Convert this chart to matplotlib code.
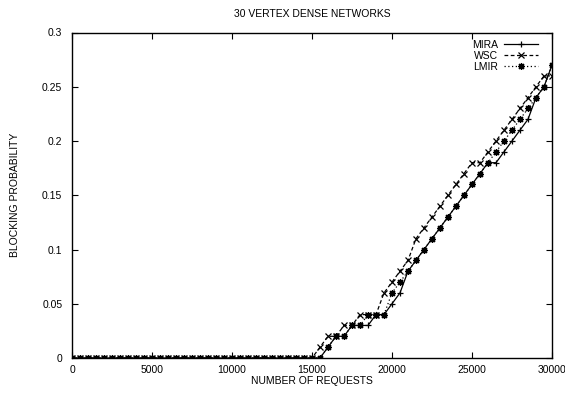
import numpy as np
import matplotlib
matplotlib.use("Agg")
import matplotlib.pyplot as plt

plt.rcParams['font.family'] = ['Liberation Sans', 'DejaVu Sans']

# Data (one point every 500 requests)
requests = np.arange(0, 30001, 500)
mira = [0.0] * 32 + [0.01, 0.02, 0.02, 0.03, 0.03, 0.03, 0.04, 0.04, 0.05, 0.06,
                     0.08, 0.09, 0.10, 0.11, 0.12, 0.13, 0.14, 0.15, 0.16, 0.17,
                     0.18, 0.18, 0.19, 0.20, 0.21, 0.22, 0.24, 0.25, 0.27]
wsc = [0.0] * 31 + [0.01, 0.02, 0.02, 0.03, 0.03, 0.04, 0.04, 0.04, 0.06, 0.07,
                    0.08, 0.09, 0.11, 0.12, 0.13, 0.14, 0.15, 0.16, 0.17, 0.18,
                    0.18, 0.19, 0.20, 0.21, 0.22, 0.23, 0.24, 0.25, 0.26, 0.26]
lmir = [0.0] * 32 + [0.01, 0.02, 0.02, 0.03, 0.03, 0.04, 0.04, 0.04, 0.06, 0.07,
                     0.08, 0.09, 0.10, 0.11, 0.12, 0.13, 0.14, 0.15, 0.16, 0.17,
                     0.18, 0.19, 0.20, 0.21, 0.22, 0.23, 0.24, 0.25, 0.27]

xticks = [0, 5000, 10000, 15000, 20000, 25000, 30000]
yticks = [0, 0.05, 0.1, 0.15, 0.2, 0.25, 0.3]
ytick_labels = ['0', '0.05', '0.1', '0.15', '0.2', '0.25', '0.3']

fig = plt.figure(figsize=(5.65, 3.94), dpi=100)
ax = fig.add_axes([72 / 565, 36 / 394, 480 / 565, 325.5 / 394])

ax.plot(requests, mira, color='black', lw=0.9, ls='-', marker='+', ms=5, mew=0.9, label='MIRA')
ax.plot(requests, wsc, color='black', lw=0.9, ls=(0, (3, 2)), marker='x', ms=4, mew=0.9, label='WSC')
ax.plot(requests, lmir, color='black', lw=0.9, ls=(0, (1, 2)), marker=(8, 2, 0), ms=5, mew=0.9, label='LMIR')

ax.set_xlim(0, 30000)
ax.set_ylim(0, 0.3)
ax.set_xticks(xticks)
ax.set_xticklabels([str(t) for t in xticks])
ax.set_yticks(yticks)
ax.set_yticklabels(ytick_labels)
ax.tick_params(direction='in', length=4, width=0.8, labelsize=7.5,
               top=True, right=True)
ax.tick_params(axis='x', pad=5)
ax.tick_params(axis='y', pad=7)
for s in ax.spines.values():
    s.set_linewidth(1.0)

ax.set_title('30 VERTEX DENSE NETWORKS', fontsize=7.5, pad=11)
ax.set_xlabel('NUMBER OF REQUESTS', fontsize=7.5, labelpad=1)
ax.set_ylabel('BLOCKING PROBABILITY', fontsize=7.5, labelpad=16)

ax.legend(loc='upper right', frameon=False, markerfirst=False, fontsize=7.5,
          handlelength=3.2, handletextpad=0.6, labelspacing=0.1,
          borderaxespad=0.3, bbox_to_anchor=(0.985, 1.0))

fig.savefig('out.png', dpi=100)
